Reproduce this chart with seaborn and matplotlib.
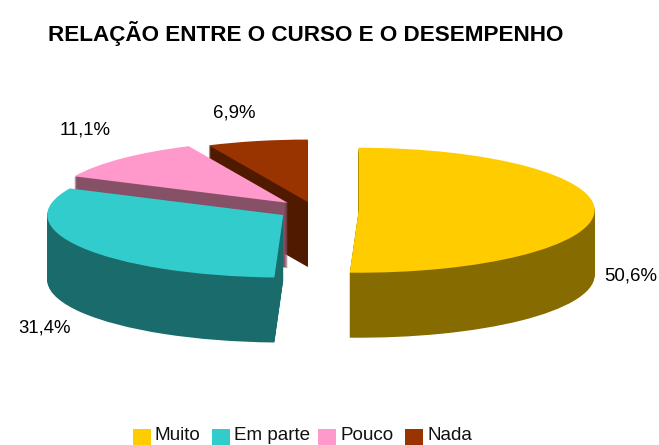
import matplotlib
matplotlib.use("Agg")
import matplotlib.pyplot as plt
import seaborn as sns
from matplotlib.patches import Rectangle

categories = ["Muito", "Em parte", "Pouco", "Nada"]
values = [50.6, 31.4, 11.1, 6.9]
top_colors = ["#FFCC00", "#33CCCC", "#FF99CC", "#993300"]
side_colors = ["#866B00", "#1A6B6B", "#865066", "#501A00"]
title = "RELAÇÃO ENTRE O CURSO E O DESEMPENHO"

sns.set_theme(style="white")
plt.rcParams["font.family"] = ["Liberation Sans", "DejaVu Sans"]

W, H = 659, 445
fig = plt.figure(figsize=(W / 100, H / 100), dpi=100, facecolor="white")
ax = fig.add_axes([0, 0, 1, 1])

RX, RY = 236, 62.5
CX, CY = 314.5, 210
DEPTH_PX = 65
explode = [0.187, 0.155, 0.16, 0.13]
base_z = [8, 6, 4, 2]
top_pal = sns.color_palette(top_colors)
side_pal = sns.color_palette(side_colors)

layers = DEPTH_PX
for k in range(layers, -1, -1):
    colors = top_pal if k == 0 else side_pal
    wedges, _ = ax.pie(values, colors=colors, startangle=90, counterclock=False,
                       explode=explode, center=(0, -k / RY), radius=1.0)
    for i, w in enumerate(wedges):
        w.set_zorder(base_z[i] + (layers - k) / (layers + 1))
        w.set_linewidth(0)

ax.set_aspect("auto")
ax.set_xlim(-CX / RX, (W - CX) / RX)
ax.set_ylim(-(H - CY) / RY, CY / RY)
ax.set_axis_off()


def px(x, y):
    return (x / W, 1 - y / H)


lab_pos = [(631, 276), (45, 328), (85, 130), (234, 113)]
for v, (x, y) in zip(values, lab_pos):
    fig.text(*px(x, y), f"{v:.1f}%".replace(".", ","), ha="center", va="center",
             fontsize=13.4, color="black", zorder=20)

fig.text(*px(48, 33), title, ha="left", va="center", fontsize=16.2,
         fontweight="bold", color="black")

sw_x = [133, 212, 318, 405]
tx_x = [155, 234, 341, 428]
for c, col, sx, tx in zip(categories, top_pal, sw_x, tx_x):
    fig.patches.append(Rectangle(px(sx, 445), 18 / W, 16 / H, transform=fig.transFigure,
                                 facecolor=col, edgecolor="none", figure=fig))
    fig.text(*px(tx, 436), c, ha="left", va="center", fontsize=13.6, color="#111111")

fig.savefig("out.png", dpi=100, facecolor="white")
